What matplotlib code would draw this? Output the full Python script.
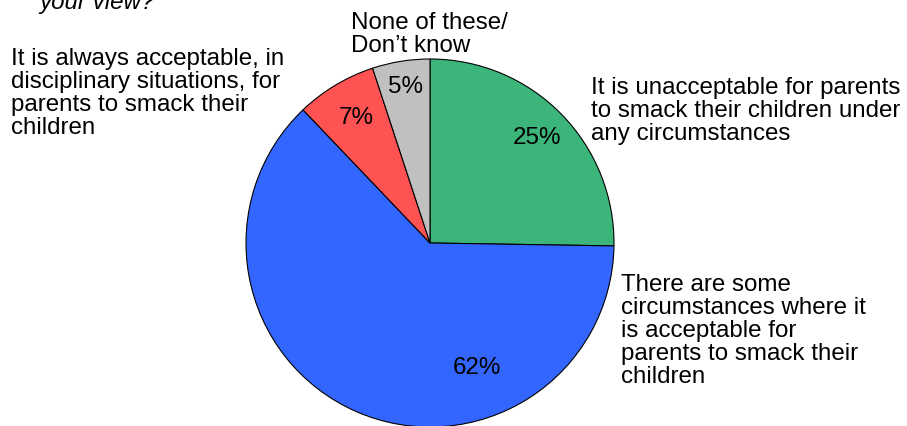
import matplotlib
matplotlib.use("Agg")
import matplotlib.pyplot as plt

plt.rcParams['font.family'] = ['Liberation Sans', 'DejaVu Sans']

categories = [
    "It is unacceptable for parents\nto smack their children under\nany circumstances",
    "There are some\ncircumstances where it\nis acceptable for\nparents to smack their\nchildren",
    "It is always acceptable, in\ndisciplinary situations, for\nparents to smack their\nchildren",
    "None of these/\nDon\u2019t know",
]
values = [25, 62, 7, 5]
colors = ["#3cb57a", "#3366ff", "#ff5252", "#c0c0c0"]

# where the percentage text sits inside each slice (axes units, radius = 1)
pct_xy = [(0.58, 0.57), (0.255, -0.68), (-0.40, 0.68), (-0.135, 0.85)]

W, H = 907, 426
fig = plt.figure(figsize=(W / 100, H / 100), dpi=100)
cx, cy, r = 430, 243, 184
ax = fig.add_axes([(cx - r) / W, (H - cy - r) / H, 2 * r / W, 2 * r / H])

wedges, _ = ax.pie(values, colors=colors, startangle=90, counterclock=False,
                   wedgeprops=dict(edgecolor="black", linewidth=0.8))
ax.set_aspect("equal")
ax.set_xlim(-1, 1)
ax.set_ylim(-1, 1)

for v, (x, y) in zip(values, pct_xy):
    ax.text(x, y, f"{v}%", ha="center", va="center", fontsize=17.4)

# category labels placed around the pie (pixel positions of text top-left)
label_pos = [(591, 77), (621, 274), (11, 48), (351, 12)]
for txt, (x, y) in zip(categories, label_pos):
    fig.text(x / W, 1 - y / H, txt, ha="left", va="top", fontsize=17.4,
             linespacing=1.06)

fig.text(39 / W, 1 - 9 / H, "your view?", ha="left", va="baseline",
         fontsize=17.4, style="italic")

fig.savefig("out.png", dpi=100)
